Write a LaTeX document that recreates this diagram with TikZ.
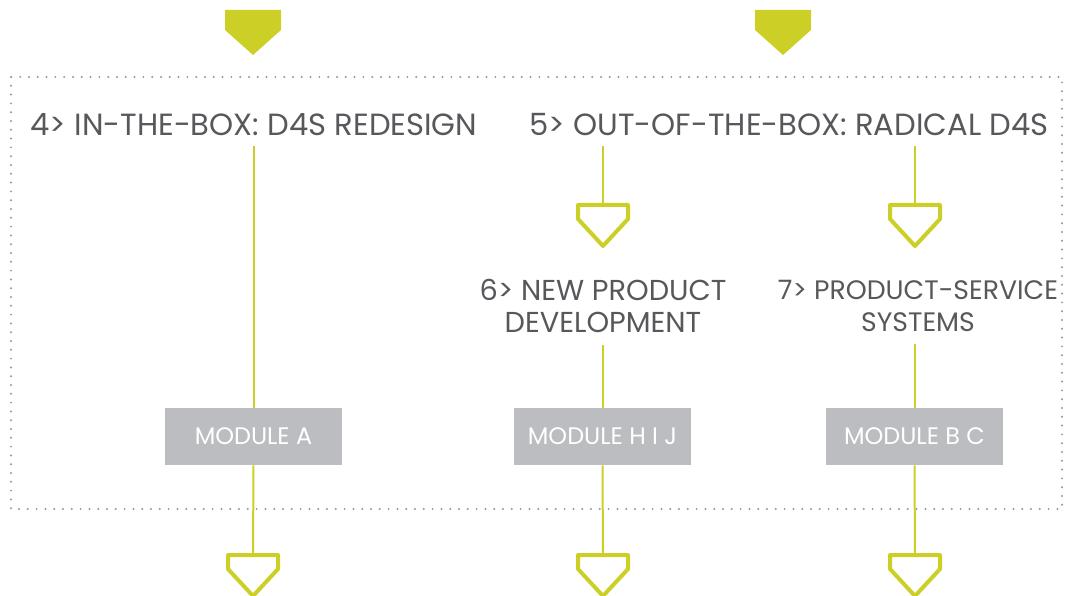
\documentclass[tikz,border=0pt]{standalone}
\usepackage{fontspec}
\setmainfont{Poppins}
\usetikzlibrary{positioning}

\definecolor{lime}{RGB}{204,208,38}
\definecolor{boxgrey}{RGB}{188,189,192}
\definecolor{inkgrey}{RGB}{88,88,92}
\definecolor{dotgrey}{RGB}{150,150,154}

\tikzset{
  heading/.style={text=inkgrey, inner sep=0pt, font=\fontsize{21.8}{23}\selectfont},
  subheading/.style={heading, align=center, font=\fontsize{20.5}{23}\selectfont},
  module/.style={fill=boxgrey, text=white, minimum width=44.25mm, minimum height=14.25mm,
    inner sep=0pt, font=\fontsize{17}{19}\selectfont},
  flow/.style={draw=lime, line width=0.5mm},
  frame/.style={draw=dotgrey, line width=0.55mm, line cap=round, dash pattern=on 0pt off 2.2mm},
  arrowin/.pic={\fill[lime] (-28,0) -- (28,0) -- (28,20) -- (0,45) -- (-28,20) -- cycle;},
  arrowout/.pic={\draw[lime, line width=1mm, line join=round]
    (-25,2) -- (25,2) -- (25,16) -- (0,43) -- (-25,16) -- cycle;}
}

\begin{document}
\begin{tikzpicture}[x=0.25mm, y=-0.25mm]
\useasboundingbox (0,0) rectangle (1066,596);

% dotted frame round the two routes
\draw[frame] (11,77) rectangle (1062,509);

% incoming arrows
\coordinate (inL) at (253,10);
\coordinate (inR) at (783,10);
\pic at (inL) {arrowin};
\pic at (inR) {arrowin};

% headings
\node[heading] (t4) at (254,125) {4> IN-THE-BOX: D4S REDESIGN};
\node[heading] (t5) at (789,125) {5> OUT-OF-THE-BOX: RADICAL D4S};
\node[subheading] (t6) at (603,306) {6> NEW PRODUCT\\DEVELOPMENT};
\node[subheading, font=\fontsize{19}{23}\selectfont] (t7) at (918,306) {7> PRODUCT-SERVICE\\SYSTEMS};

% modules
\node[module] (mA) at (253.5,436.5) {MODULE A};
\node[module] (mH) at (602.5,436.5) {MODULE H I J};
\node[module] (mB) at (914.5,436.5) {MODULE B C};

% arrow heads along the routes
\coordinate (o6) at (603,203);
\coordinate (o7) at (915,203);
\coordinate (oA) at (253,553);
\coordinate (oH) at (603,553);
\coordinate (oB) at (915,553);
\foreach \c in {o6,o7,oA,oH,oB}
  \pic at (\c) {arrowout};

% connectors
\draw[flow, shorten <=2.5mm] (t4.south -| mA.north) -- (mA.north);
\draw[flow, shorten <=2.5mm] (t5.south -| o6) -- ([yshift=-0.5mm]o6);
\draw[flow, shorten <=2.5mm] (t5.south -| o7) -- ([yshift=-0.5mm]o7);
\draw[flow, shorten <=3mm] (t6.south -| mH.north) -- (mH.north);
\draw[flow, shorten <=3mm] (t7.south -| mB.north) -- (mB.north);
\draw[flow] (mA.south) -- ([yshift=-0.5mm]oA);
\draw[flow] (mH.south) -- ([yshift=-0.5mm]oH);
\draw[flow] (mB.south) -- ([yshift=-0.5mm]oB);
\end{tikzpicture}
\end{document}
